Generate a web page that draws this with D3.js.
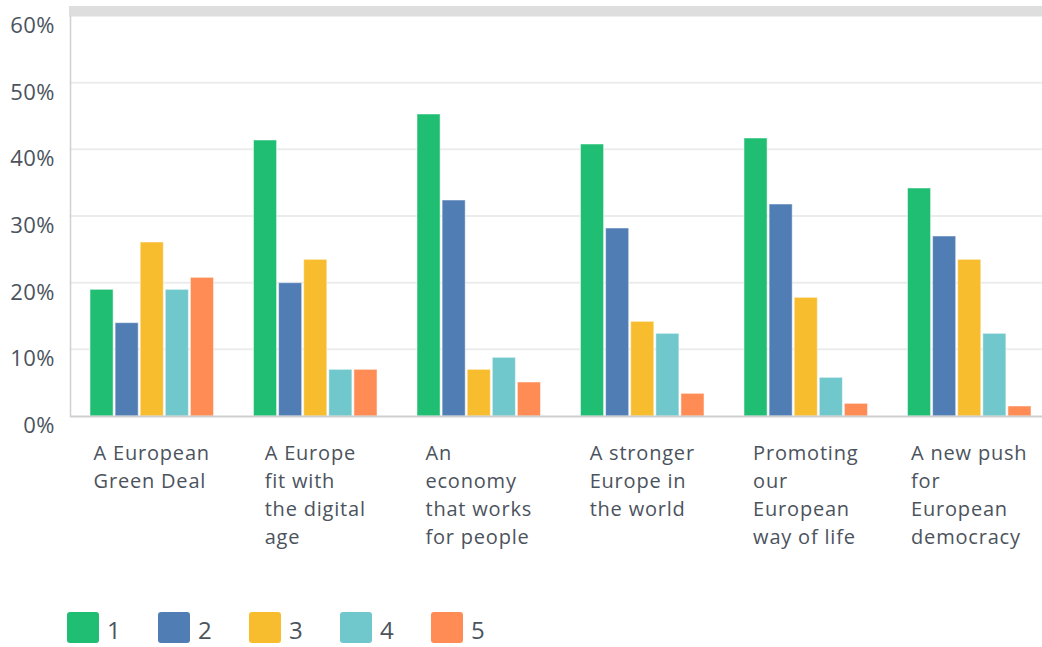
<!DOCTYPE html>
<html>
<head>
<meta charset="utf-8">
<script src="https://cdn.jsdelivr.net/npm/d3@7"></script>
<style>
  body { margin: 0; background: #fff; }
  text { font-family: "Open Sans", sans-serif; fill: #4b535d; }
</style>
</head>
<body>
<div id="chart"></div>
<script>
// Categories (with the line breaks used in the picture)
const categories = [
  ["A European", "Green Deal"],
  ["A Europe", "fit with", "the digital", "age"],
  ["An", "economy", "that works", "for people"],
  ["A stronger", "Europe in", "the world"],
  ["Promoting", "our", "European", "way of life"],
  ["A new push", "for", "European", "democracy"]
];
const seriesNames = ["1", "2", "3", "4", "5"];
const colors = ["#1fbe72", "#517db5", "#f7bd2f", "#71c8cc", "#ff8b55"];

// Percent values per series
const s1 = [19.0, 41.4, 45.3, 40.8, 41.7, 34.2];
const s2 = [14.0, 20.0, 32.4, 28.2, 31.8, 27.0];
const s3 = [26.1, 23.5, 7.0, 14.2, 17.8, 23.5];
const s4 = [19.0, 7.0, 8.8, 12.4, 5.8, 12.4];
const s5 = [20.8, 7.0, 5.1, 3.4, 1.9, 1.5];
const series = [s1, s2, s3, s4, s5];

const yTicks = [0, 10, 20, 30, 40, 50, 60];

const W = 1042, H = 647;
const svg = d3.select("#chart").append("svg")
  .attr("width", W).attr("height", H);

const x0 = d3.scaleBand()
  .domain(d3.range(categories.length))
  .range([70, 1051])
  .paddingInner(0.22)
  .paddingOuter(0.11);

const x1 = d3.scaleBand()
  .domain(seriesNames)
  .range([0, x0.bandwidth()])
  .padding(0.08);

const y = d3.scaleLinear()
  .domain([0, 60])
  .range([416, 16]);

// gray band on top
svg.append("rect")
  .attr("x", 69).attr("y", 6)
  .attr("width", W - 69).attr("height", 10.5)
  .attr("fill", "#dedede");

// gridlines
svg.append("g")
  .selectAll("line")
  .data(yTicks.filter(d => d > 0 && d < 60))
  .join("line")
    .attr("x1", 71).attr("x2", W)
    .attr("y1", d => y(d)).attr("y2", d => y(d))
    .attr("stroke", "#ececec")
    .attr("stroke-width", 2);

// y tick labels
svg.append("g")
  .selectAll("text")
  .data(yTicks)
  .join("text")
    .attr("x", 55)
    .attr("y", d => y(d) + 17)
    .attr("text-anchor", "end")
    .style("font-size", "22px")
    .style("letter-spacing", "0.5px")
    .text(d => d + "%");

// left axis line
svg.append("line")
  .attr("x1", 70.5).attr("x2", 70.5)
  .attr("y1", 16).attr("y2", 417)
  .attr("stroke", "#d0d0d0")
  .attr("stroke-width", 1.5);

// bars
const groups = svg.append("g")
  .selectAll("g")
  .data(categories.map((c, i) => i))
  .join("g")
    .attr("transform", i => `translate(${x0(i)},0)`);

groups.selectAll("rect")
  .data(i => series.map((s, k) => ({ key: seriesNames[k], k: k, value: s[i] })))
  .join("rect")
    .attr("x", d => x1(d.key))
    .attr("y", d => y(d.value))
    .attr("width", x1.bandwidth())
    .attr("height", d => y(0) - y(d.value))
    .attr("fill", d => colors[d.k])
    .attr("stroke", "#ffffff")
    .attr("stroke-opacity", 0.5)
    .attr("stroke-width", 1);

// baseline
svg.append("line")
  .attr("x1", 70).attr("x2", W)
  .attr("y1", 416.5).attr("y2", 416.5)
  .attr("stroke", "#cfcfcf")
  .attr("stroke-width", 2);

// category labels: left aligned block, centred under its group
categories.forEach((lines, i) => {
  const t = svg.append("text")
    .style("font-size", "20px")
    .style("letter-spacing", "0.8px");
  lines.forEach((ln, j) => {
    t.append("tspan")
      .attr("y", 460 + j * 28)
      .text(ln);
  });
  let maxW = 0;
  t.selectAll("tspan").each(function() {
    maxW = Math.max(maxW, this.getComputedTextLength());
  });
  const left = x0(i) + x0.bandwidth() / 2 - maxW / 2;
  t.selectAll("tspan").attr("x", left);
});

// legend
const legend = svg.append("g")
  .selectAll("g")
  .data(seriesNames)
  .join("g")
    .attr("transform", (d, i) => `translate(${67 + i * 91},612)`);

legend.append("rect")
  .attr("width", 32).attr("height", 31)
  .attr("rx", 3)
  .attr("fill", (d, i) => colors[i]);

legend.append("text")
  .attr("x", 40).attr("y", 27)
  .style("font-size", "24px")
  .text(d => d);
</script>
</body>
</html>
